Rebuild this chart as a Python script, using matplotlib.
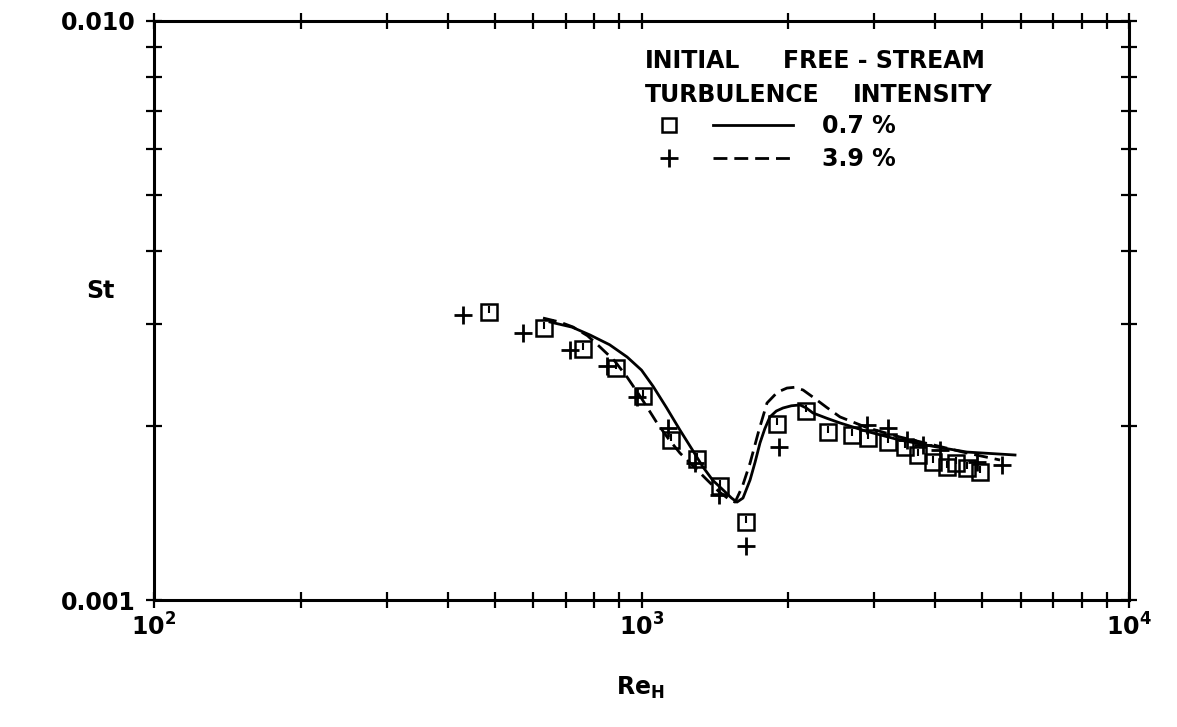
import numpy as np
import matplotlib
matplotlib.use('Agg')
import matplotlib.pyplot as plt
from matplotlib.ticker import LogLocator, NullFormatter
from matplotlib.path import Path
from matplotlib.legend_handler import HandlerTuple
from matplotlib.lines import Line2D

# ---- data ----
# squares: 0.7 % free-stream turbulence (measured)
sq_re = [487, 631, 757, 885, 1009, 1148, 1298, 1449, 1639, 1894, 2175,
         2417, 2699, 2919, 3208, 3472, 3697, 3968, 4227, 4418, 4647, 4948]
sq_st = [0.003147, 0.002946, 0.002710, 0.002513, 0.002250, 0.001889,
         0.001750, 0.001574, 0.001366, 0.002014, 0.002123, 0.001953,
         0.001928, 0.001903, 0.001877, 0.001840, 0.001780, 0.001733,
         0.001699, 0.001724, 0.001688, 0.001665]
# plus: 3.9 % free-stream turbulence (measured)
pl_re = [431, 572, 713, 848, 978, 1135, 1288, 1442, 1639, 1918,
         2897, 3208, 3499, 3781, 4097, 4871, 5482]
pl_st = [0.003106, 0.002888, 0.002703, 0.002536, 0.002244, 0.001980,
         0.001724, 0.001518, 0.001240, 0.001840, 0.002006, 0.001980,
         0.001889, 0.001852, 0.001816, 0.001733, 0.001711]
# solid curve: 0.7 % prediction
sol_re = [649, 720, 784, 860, 934, 1000, 1056, 1125, 1199, 1270, 1337, 1400,
          1470, 1530, 1570, 1615, 1670, 1710, 1750, 1790, 1834, 1890, 1951,
          2030, 2114, 2180, 2247, 2400, 2554, 2900, 3390, 4000, 4653, 5837]
sol_st = [0.003021, 0.002960, 0.002869, 0.002760, 0.002629, 0.002495,
          0.002340, 0.002150, 0.001966, 0.001820, 0.001697, 0.001610,
          0.001549, 0.001500, 0.001476, 0.001500, 0.001612, 0.001730,
          0.001867, 0.001975, 0.002071, 0.002120, 0.002146, 0.002165,
          0.002172, 0.002145, 0.002104, 0.002060, 0.002022, 0.001955,
          0.001889, 0.001840, 0.001801, 0.001780]
# dashed curve: 3.9 % prediction
das_re = [628, 680, 724, 775, 822, 880, 934, 1000, 1076, 1135, 1199, 1280,
          1363, 1440, 1519, 1556, 1610, 1670, 1740, 1809, 1900, 1988, 2060,
          2145, 2247, 2400, 2554, 2900, 3390, 4000, 4653, 5438]
das_st = [0.003069, 0.003020, 0.002961, 0.002860, 0.002735, 0.002590,
          0.002427, 0.002230, 0.002022, 0.001900, 0.001794, 0.001700,
          0.001612, 0.001540, 0.001488, 0.001476, 0.001570, 0.001724,
          0.001960, 0.002189, 0.002285, 0.002323, 0.002330, 0.002305,
          0.002241, 0.002150, 0.002071, 0.001985, 0.001912, 0.001850,
          0.001794, 0.001745]

x_ticks = [1e2, 1e3, 1e4]
y_ticks = [0.001, 0.010]
y_ticklabels = ['0.001', '0.010']
labels = ['0.7 %', '3.9 %']

plt.rcParams['font.weight'] = 'bold'
plt.rcParams['axes.labelweight'] = 'bold'
plt.rcParams['mathtext.default'] = 'bf'
FS = 17

# ---- figure ----
W, H = 1177, 727
fig = plt.figure(figsize=(W / 100, H / 100), dpi=100)
fig.patch.set_facecolor('white')
ax = fig.add_axes([154 / W, 1 - 600 / H, 975 / W, 579 / H])
ax.set_xscale('log')
ax.set_yscale('log')
ax.set_xlim(1e2, 1e4)
ax.set_ylim(1e-3, 1e-2)

tick_mark = Path([(0, -0.15), (0, 1.0)], [Path.MOVETO, Path.LINETO])

ax.plot(sol_re, sol_st, '-', color='black', lw=2.0, zorder=2)
ax.plot(das_re, das_st, '--', color='black', lw=2.0, dashes=(5, 2.5), zorder=2)
ax.plot(sq_re, sq_st, ls='none', marker='s', ms=11, mfc='none', mec='black',
        mew=1.8, zorder=3)
ax.plot(sq_re, sq_st, ls='none', marker=tick_mark, ms=9, mec='black',
        mew=1.5, zorder=3)
ax.plot(pl_re, pl_st, ls='none', marker='+', ms=13, mec='black', mew=2.0,
        zorder=3)

# ticks
ax.set_xticks(x_ticks)
ax.xaxis.set_minor_locator(LogLocator(base=10, subs=np.arange(2, 10)))
ax.xaxis.set_minor_formatter(NullFormatter())
ax.set_yticks(y_ticks)
ax.set_yticklabels(y_ticklabels)
ax.yaxis.set_minor_locator(LogLocator(base=10, subs=np.arange(2, 10)))
ax.yaxis.set_minor_formatter(NullFormatter())
ax.tick_params(which='both', direction='inout', length=12, width=1.6,
               top=True, right=True, labelsize=FS, colors='black')
ax.tick_params(axis='y', which='both', pad=7)
ax.tick_params(axis='x', which='both', pad=4)
for s in ax.spines.values():
    s.set_linewidth(2.2)
    s.set_color('black')

# axis labels
ax.set_ylabel('St', rotation=0, fontsize=FS, fontweight='bold',
              ha='center', va='center')
ax.yaxis.set_label_coords((100 - 154) / 975, (600 - 291) / 579)
ax.set_xlabel(r'Re$_{\mathbf{H}}$', fontsize=FS, fontweight='bold',
              ha='center', va='center')
ax.xaxis.set_label_coords((640 - 154) / 975, (600 - 688) / 579)

# legend title (as text)
tkw = dict(fontsize=FS, fontweight='bold', va='baseline', ha='left',
           transform=fig.transFigure)
fig.text(645 / W, 1 - 68 / H, 'INITIAL', **tkw)
fig.text(783 / W, 1 - 68 / H, 'FREE - STREAM', **tkw)
fig.text(645 / W, 1 - 102 / H, 'TURBULENCE', **tkw)
fig.text(853 / W, 1 - 102 / H, 'INTENSITY', **tkw)

# legend
h_sq = Line2D([], [], ls='none', marker='s', ms=10, mfc='none', mec='black', mew=1.8)
h_sol = Line2D([], [], ls='-', color='black', lw=2.0)
h_pl = Line2D([], [], ls='none', marker='+', ms=13, mec='black', mew=2.0)
h_das = Line2D([], [], ls='--', color='black', lw=2.0, dashes=(5, 2.5))
hs = [(h_sq, h_sol), (h_pl, h_das)]
leg = ax.legend(hs, labels, handler_map={tuple: HandlerTuple(ndivide=None, pad=0.17)},
                loc='upper left', bbox_to_anchor=(629 / W, 1 - 114 / H),
                bbox_transform=fig.transFigure, frameon=False,
                prop={'size': FS, 'weight': 'bold'},
                handlelength=6.95, handletextpad=1.23, labelspacing=0.4,
                borderpad=0, borderaxespad=0)

fig.savefig('out.png', dpi=100, facecolor='white')
